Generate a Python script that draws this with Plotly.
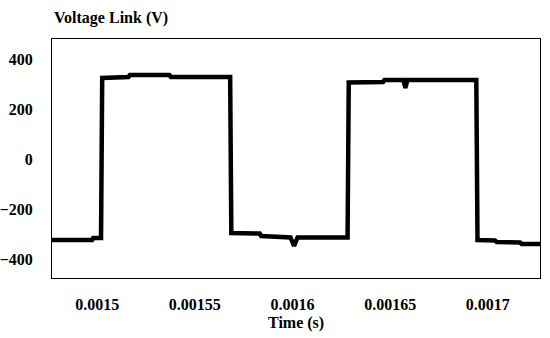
import plotly.graph_objects as go

time_s = [0.0014769, 0.0014974, 0.0014980, 0.0015020, 0.0015026, 0.0015160, 0.0015168,
          0.0015370, 0.0015378, 0.0015681, 0.0015687, 0.0015832, 0.0015840, 0.0015985,
          0.0015990, 0.0016008, 0.0016026, 0.0016282, 0.0016288, 0.0016463, 0.0016471,
          0.0016568, 0.0016578, 0.0016588, 0.0016941, 0.0016947, 0.0017037, 0.0017045,
          0.0017165, 0.0017173, 0.0017272]
voltage_v = [-324, -324, -316, -316, 324, 328, 336,
             336, 328, 328, -296, -298, -308, -310,
             -314, -348, -314, -314, 306, 308, 316,
             316, 284, 316, 316, -324, -326, -332,
             -334, -340, -340]

x_ticks = [0.0015, 0.00155, 0.0016, 0.00165, 0.0017]
x_tick_labels = ["0.0015", "0.00155", "0.0016", "0.00165", "0.0017"]
y_ticks = [400, 200, 0, -200, -400]
y_tick_labels = ["400", "200", "0", "\u2212200", "\u2212400"]

font_family = "Liberation Serif"
tick_font = dict(family=font_family, size=16, color="black", weight="bold")

fig = go.Figure()
fig.add_trace(go.Scatter(x=time_s, y=voltage_v, mode="lines",
                         line=dict(color="black", width=4.5), showlegend=False))

fig.update_layout(
    width=550, height=338,
    margin=dict(l=52, r=10, t=39, b=60),
    paper_bgcolor="white", plot_bgcolor="white",
    font=dict(family=font_family, size=16, color="black"),
    xaxis=dict(range=[0.0014769, 0.0017267], tickvals=x_ticks, ticktext=x_tick_labels,
               showgrid=False, zeroline=False, showline=True, linecolor="black",
               linewidth=1, mirror=True, ticks="outside", tickcolor="white", ticklen=12,
               tickfont=tick_font, automargin=False),
    yaxis=dict(range=[-476, 480], tickvals=y_ticks, ticktext=y_tick_labels,
               showgrid=False, zeroline=False, showline=True, linecolor="black",
               linewidth=1, mirror=True, ticks="outside", tickcolor="white", ticklen=15,
               tickfont=tick_font, automargin=False),
    annotations=[
        dict(text="<b>Voltage Link (V)</b>", xref="paper", yref="paper",
             x=0, y=1, xanchor="left", yanchor="middle", yshift=21,
             showarrow=False, font=dict(family=font_family, size=16, color="black")),
        dict(text="<b>Time (s)</b>", xref="paper", yref="paper",
             x=0.5, y=0, xanchor="center", yanchor="middle", yshift=-45,
             showarrow=False, font=dict(family=font_family, size=16, color="black")),
    ],
)

fig.write_html("out.html", config={"displayModeBar": False},
               post_script="document.body.style.margin='0';")
